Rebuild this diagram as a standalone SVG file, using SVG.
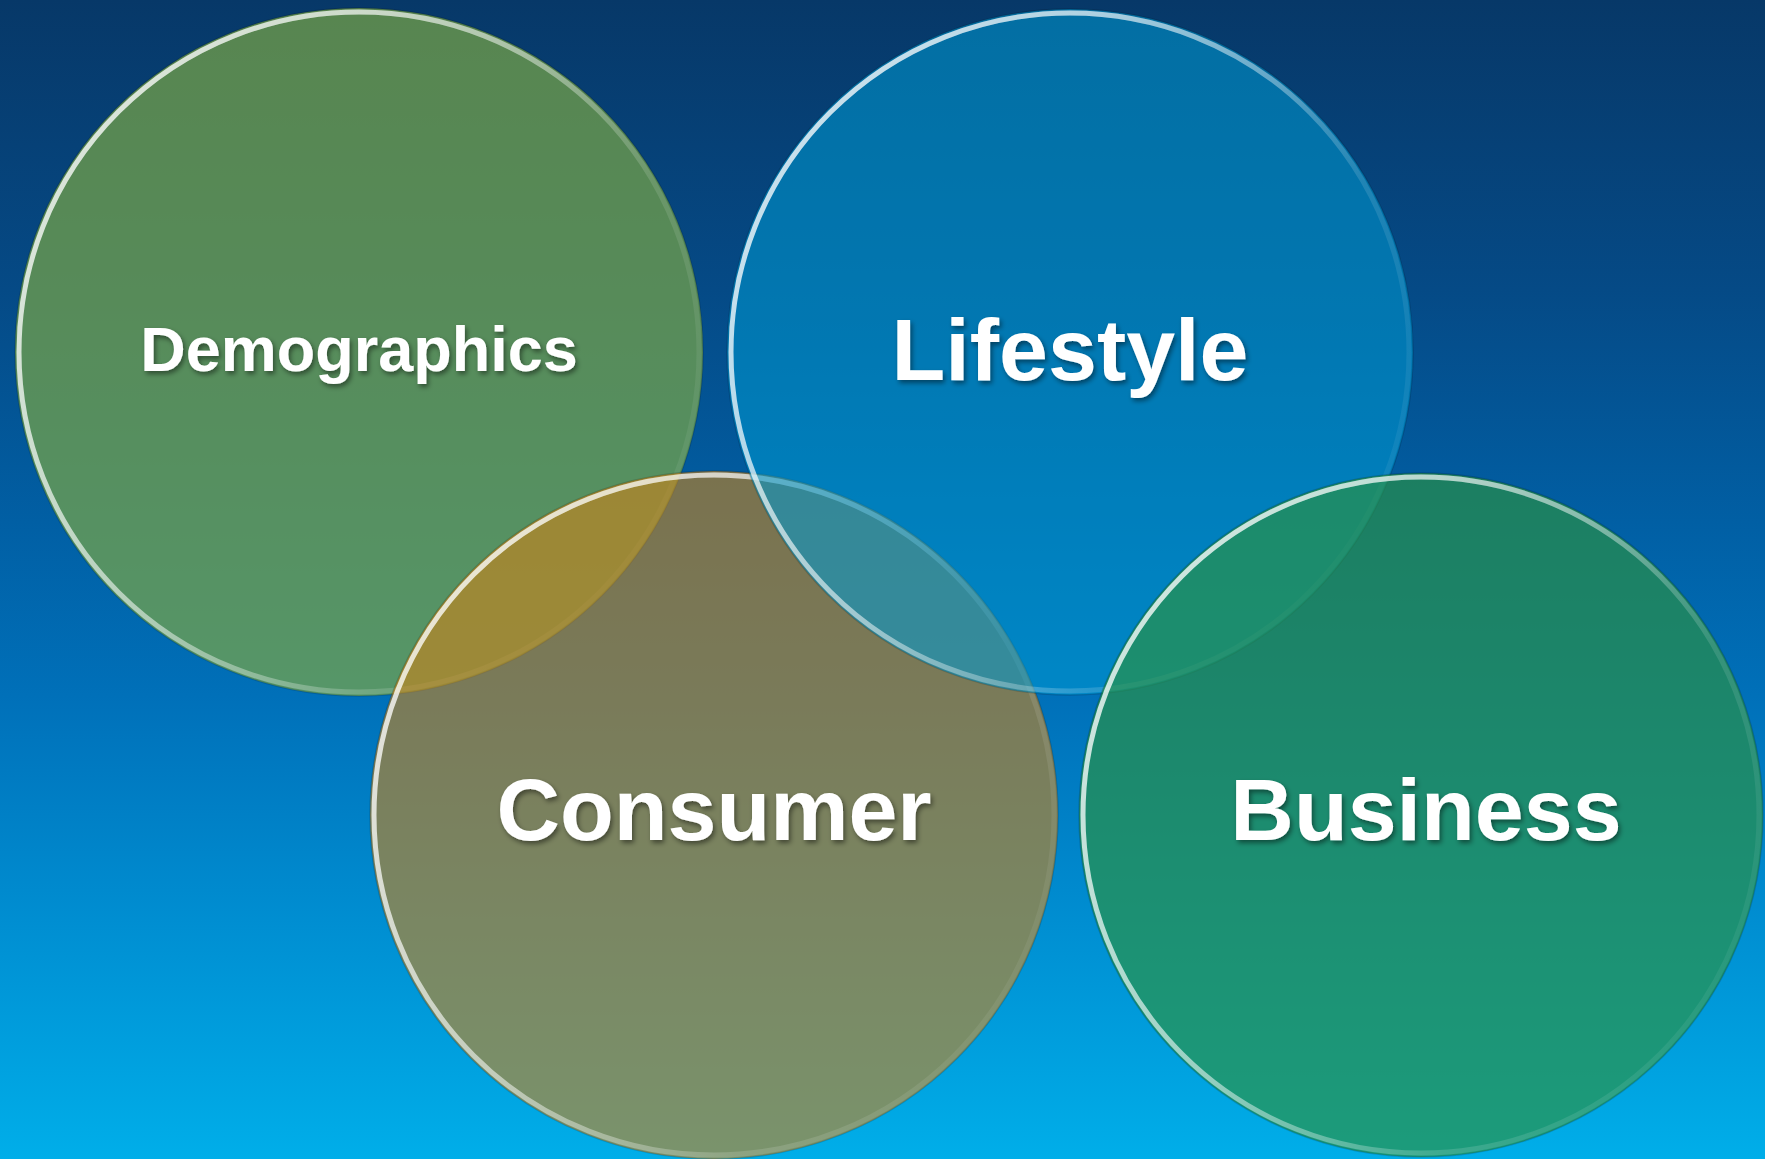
<svg xmlns="http://www.w3.org/2000/svg" width="1765" height="1159" viewBox="0 0 1765 1159">
  <defs>
    <linearGradient id="bg" x1="0" y1="0" x2="0" y2="1">
      <stop offset="0" stop-color="#073868"/>
      <stop offset="0.25" stop-color="#054a86"/>
      <stop offset="0.45" stop-color="#015fa4"/>
      <stop offset="0.6" stop-color="#0070b9"/>
      <stop offset="0.8" stop-color="#008fd2"/>
      <stop offset="1" stop-color="#00aee9"/>
    </linearGradient>
    <linearGradient id="rim" x1="0" y1="0.3" x2="1" y2="0.7">
      <stop offset="0" stop-color="#ffffff" stop-opacity="0.8"/>
      <stop offset="0.35" stop-color="#ffffff" stop-opacity="0.55"/>
      <stop offset="0.7" stop-color="#ffffff" stop-opacity="0.15"/>
      <stop offset="1" stop-color="#ffffff" stop-opacity="0.05"/>
    </linearGradient>
    <linearGradient id="rimTop" x1="0" y1="0" x2="0" y2="1">
      <stop offset="0" stop-color="#ffffff" stop-opacity="0.3"/>
      <stop offset="0.25" stop-color="#ffffff" stop-opacity="0"/>
      <stop offset="1" stop-color="#ffffff" stop-opacity="0"/>
    </linearGradient>
    <filter id="ts" x="-10%" y="-30%" width="120%" height="160%">
      <feDropShadow dx="2" dy="3" stdDeviation="2.5" flood-color="#000000" flood-opacity="0.45"/>
    </filter>
  </defs>
  <style>
    .edge { fill: none; stroke: #000000; stroke-opacity: 0.15; stroke-width: 1.5; }
    .rim { fill: none; stroke: url(#rim); stroke-width: 5; }
    .rimt { fill: none; stroke: url(#rimTop); stroke-width: 5; }
    .lbl { font-family: "Liberation Sans", Arial, sans-serif; font-weight: bold; fill: #ffffff; text-anchor: middle; filter: url(#ts); }
  </style>
  <rect x="0" y="0" width="1765" height="1159" fill="url(#bg)"/>

  <g id="demographics">
    <circle cx="359" cy="352" r="344" fill="#7aa646" fill-opacity="0.7"/>
    <circle class="edge" cx="359" cy="352" r="344"/>
    <circle class="rim" cx="359" cy="352" r="340"/>
    <circle class="rimt" cx="359" cy="352" r="340"/>
    <text class="lbl" x="359" y="371" font-size="63">Demographics</text>
  </g>

  <g id="consumer">
    <circle cx="714" cy="815" r="344" fill="#cb8219" fill-opacity="0.6"/>
    <circle class="edge" cx="714" cy="815" r="344"/>
    <circle class="rim" cx="714" cy="815" r="340"/>
    <circle class="rimt" cx="714" cy="815" r="340"/>
    <text class="lbl" x="714" y="840" font-size="88">Consumer</text>
  </g>

  <g id="lifestyle">
    <circle cx="1070" cy="352" r="343" fill="#009ad1" fill-opacity="0.56"/>
    <circle class="edge" cx="1070" cy="352" r="343"/>
    <circle class="rim" cx="1070" cy="352" r="339"/>
    <circle class="rimt" cx="1070" cy="352" r="339"/>
    <text class="lbl" x="1070" y="380" font-size="88">Lifestyle</text>
  </g>

  <g id="business">
    <circle cx="1421" cy="815" r="342" fill="#2b9241" fill-opacity="0.65"/>
    <circle class="edge" cx="1421" cy="815" r="342"/>
    <circle class="rim" cx="1421" cy="815" r="338"/>
    <circle class="rimt" cx="1421" cy="815" r="338"/>
    <text class="lbl" x="1426" y="840" font-size="88">Business</text>
  </g>

  <g id="connectors"/>
</svg>
